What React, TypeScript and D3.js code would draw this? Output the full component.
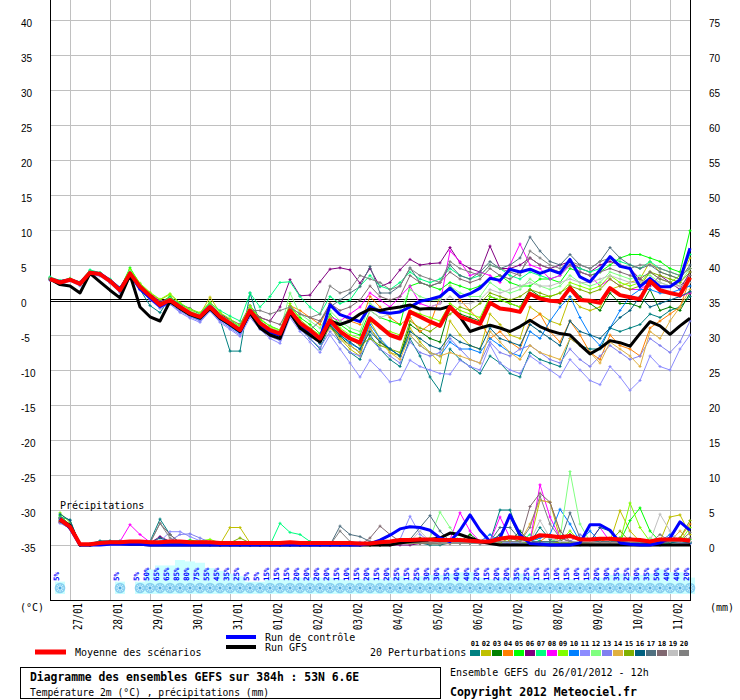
import React from 'react';
import * as d3 from 'd3';

// GEFS ensemble 26/01/2012 12h, 53N 6.6E - 65 steps of 6h (0..384h)

const dates = ['27/01', '28/01', '29/01', '30/01', '31/01', '01/02', '02/02', '03/02',
  '04/02', '05/02', '06/02', '07/02', '08/02', '09/02', '10/02', '11/02'];
const tempTicks = [40, 35, 30, 25, 20, 15, 10, 5, 0, -5, -10, -15, -20, -25, -30, -35];
const precipTicks = [75, 70, 65, 60, 55, 50, 45, 40, 35, 30, 25, 20, 15, 10, 5, 0];

const colors = ['#008080', '#c0c000', '#008000', '#ff8000', '#00ff00', '#800080', '#00ff80',
  '#ff00ff', '#80ff00', '#0080ff', '#8c8cff', '#80ff80', '#8080f0', '#e0b040', '#80b000',
  '#006080', '#507080', '#806870', '#c0c0c0', '#808080'];

// snow probability (%) per step, null = none
const snowPct = [null, 5, null, null, null, null, null, 5, null, 5, 50, 65, 65, 85, 80, 75,
  55, 45, 35, 25, 5, 5, 15, 15, 15, 20, 20, 20, 20, 15, 10, 15,
  20, 15, 20, 25, 15, 25, 30, 30, 35, 40, 40, 20, 15, 20, 20, 35,
  25, 15, 15, 10, 15, 10, 15, 20, 30, 35, 25, 30, 35, 50, 40, 40, 20];

// temperature 2m (°C), steps 0..64
const tMean = [3.0, 2.5, 2.9, 2.3, 3.9, 3.7, 2.7, 1.4, 3.8, 1.9, 0.6, -0.7, 0.0, -1.0, -1.9, -2.4,
  -1.0, -2.4, -3.3, -4.3, -1.5, -3.3, -4.3, -4.8, -1.5, -3.3, -4.3, -5.5, -2.9, -4.5, -5.5, -6.1,
  -2.6, -3.8, -5.0, -5.5, -1.7, -2.4, -3.1, -3.7, -1.0, -2.4, -2.9, -3.4, -0.4, -1.2, -1.4, -1.7,
  0.9, 0.2, -0.1, -0.2, 1.7, 0.0, -0.1, -0.4, 1.7, 0.7, 0.4, 0.1, 2.7, 1.4, 1.0, 0.7, 3.2];
const tCtrl = [3.0, 2.6, 2.9, 2.4, 3.9, 3.8, 2.8, 1.6, 3.7, 1.6, 0.3, -0.9, -0.2, -1.1, -2.0, -2.5,
  -1.2, -2.6, -3.5, -4.5, -1.8, -3.6, -4.6, -5.0, -1.8, -3.5, -4.5, -5.5, -0.7, -2.1, -2.6, -3.1,
  -0.9, -1.7, -1.9, -1.7, -1.0, -0.2, 0.1, 0.5, 1.7, 0.4, 0.9, 1.7, 3.1, 2.8, 4.4, 4.0,
  4.4, 3.8, 4.3, 3.8, 5.8, 3.3, 2.6, 4.3, 6.2, 4.8, 4.5, 1.9, 3.1, 1.9, 1.9, 2.9, 7.4];
const tGfs = [3.0, 2.2, 2.0, 1.0, 3.8, 2.6, 1.4, 0.3, 3.6, -1.0, -2.4, -3.0, -0.2, -1.2, -2.1, -2.6,
  -1.2, -2.6, -3.5, -4.5, -1.8, -4.0, -5.0, -5.5, -1.8, -4.0, -5.0, -6.0, -3.0, -3.5, -3.0, -2.0,
  -1.3, -1.5, -1.2, -1.0, -0.7, -1.3, -1.2, -1.3, -0.9, -2.4, -4.5, -4.0, -3.6, -4.0, -4.5, -3.8,
  -2.9, -3.8, -4.4, -4.8, -5.0, -6.4, -7.7, -6.9, -5.8, -6.1, -6.6, -4.8, -3.1, -3.7, -4.9, -3.7, -2.6];

const t01 = [3.1, 2.6, 3.0, 2.4, 4.2, 3.8, 2.9, 1.6, 4.0, 1.5, -0.8, -1.8, 0.3, -1.2, -2.2, -2.8,
  -0.5, -2.8, -7.3, -7.3, 1.0, -3.5, -5.0, -5.5, -2.0, -4.0, -5.5, -7.0, -3.5, -6.0, -7.5, -8.5,
  -5.0, -7.0, -8.5, -9.5, -5.5, -8.0, -11.0, -13.0, -7.0, -8.5, -9.5, -10.5, -8.0, -9.0, -10.5, -11.0,
  -7.5, -8.5, -9.0, -9.5, -5.5, -6.5, -7.0, -7.0, -4.0, -4.5, -4.0, -3.5, -2.0, -2.5, -1.5, -1.0, 0.5];
const t02 = [3.0, 2.4, 2.8, 2.2, 3.8, 3.5, 2.6, 1.3, 4.3, 2.2, 1.0, 0.0, 0.8, -0.6, -1.4, -2.0,
  0.4, -1.8, -3.0, -4.0, -1.2, -3.0, -4.5, -5.0, -0.8, -3.5, -5.0, -6.2, -3.5, -5.5, -7.0, -8.0,
  -3.0, -5.5, -7.5, -8.0, -4.0, -6.0, -7.5, -9.0, -3.0, -5.0, -6.5, -7.0, -2.0, -3.5, -5.0, -5.5,
  -1.0, -2.0, -3.0, -3.5, 0.5, -1.0, -1.5, -1.0, 1.5, 2.0, 2.5, 3.0, 5.5, 4.0, 3.5, 3.0, 6.0];
const t03 = [2.9, 2.4, 2.9, 2.2, 3.9, 3.6, 2.6, 1.2, 3.7, 1.8, 0.4, -0.8, -0.2, -1.2, -2.0, -2.6,
  -1.2, -2.8, -3.6, -4.6, -1.8, -3.6, -4.8, -5.5, -2.0, -4.0, -5.0, -6.2, -3.8, -5.2, -6.5, -7.5,
  -4.0, -6.0, -7.0, -8.0, -3.5, -4.5, -5.5, -6.0, -1.0, -2.0, -2.5, -3.0, 0.5, 0.0, -0.5, -1.0,
  1.5, 0.5, 0.0, -0.5, 2.0, 0.5, -0.5, -1.5, 1.0, -0.5, -0.5, -1.0, 1.5, -1.5, -1.0, -1.5, 1.0];
const t04 = [3.1, 2.5, 2.9, 2.3, 3.8, 3.6, 2.7, 1.5, 3.9, 2.0, 0.8, -0.4, 0.4, -0.8, -1.6, -2.2,
  -0.8, -2.2, -3.0, -4.0, -1.2, -3.0, -4.0, -4.5, -0.8, -1.5, -2.5, -3.5, -0.5, -2.0, -3.0, -3.5,
  0.5, -1.0, -2.5, -3.5, -2.5, -4.5, -3.5, 0.5, 2.0, 0.0, -1.5, -3.0, -5.5, -4.5, -6.0, -7.0,
  -3.0, -2.0, -4.5, -6.0, -3.0, -5.0, -7.5, -8.5, -5.0, -6.5, -7.0, -8.0, -4.0, -3.0, -2.0, -1.0, 3.0];
const t05 = [3.2, 2.7, 3.1, 2.5, 4.1, 3.9, 2.9, 1.6, 4.6, 2.3, 0.9, -0.4, 0.5, -0.8, -1.7, -2.2,
  -0.7, -2.0, -2.9, -3.8, -1.0, -2.8, -3.7, -4.3, -1.0, -2.5, -3.5, -4.8, -2.0, -3.5, -4.5, -5.0,
  -1.5, -2.5, -3.0, -3.5, 2.0, 2.5, 2.0, 1.5, 2.5, 2.0, 1.5, 2.0, 3.0, 3.5, 2.5, 2.0,
  2.0, 3.0, 3.0, 2.5, 4.5, 4.0, 3.5, 4.0, 5.0, 6.0, 6.5, 6.5, 6.0, 5.5, 4.5, 4.0, 9.9];
const t06 = [3.0, 2.5, 2.8, 2.3, 3.9, 3.7, 2.8, 1.5, 3.8, 2.0, 0.9, -0.2, 0.2, -0.6, -1.2, -2.0,
  -0.5, -2.0, -2.8, -3.5, -0.8, -2.5, -3.0, -1.0, 2.9, 0.6, 0.7, 2.6, 4.4, 4.6, 4.3, 2.4,
  4.5, 1.9, 2.5, 4.3, 5.8, 5.0, 5.2, 5.3, 7.5, 5.3, 4.5, 4.0, 7.7, 4.5, 4.5, 5.0,
  6.0, 5.0, 4.5, 5.0, 5.5, 4.5, 4.0, 5.0, 5.5, 5.0, 4.5, 3.0, 2.0, 3.5, 2.5, 1.5, 4.0];
const t07 = [3.3, 2.8, 3.0, 2.6, 4.3, 3.9, 3.0, 1.8, 4.2, 2.1, 0.8, -0.5, 0.3, -0.5, -1.3, -1.9,
  -0.4, -1.5, -2.3, -3.0, 1.0, -1.0, 0.5, 2.5, 2.6, 0.5, -1.0, -2.0, 0.5, -0.5, 0.0, 2.0,
  3.5, 2.0, 1.5, 2.5, 4.0, 3.0, 2.5, 3.0, 4.5, 3.5, 3.0, 3.5, 5.0, 4.5, 3.5, 3.0,
  4.0, 3.5, 3.0, 3.5, 5.0, 4.5, 4.0, 4.5, 6.0, 5.5, 5.0, 4.5, 5.5, 4.5, 4.0, 3.5, 6.5];
const t08 = [3.0, 2.4, 2.8, 2.2, 3.7, 3.5, 2.5, 1.2, 3.6, 1.7, 0.4, -0.9, -0.2, -1.4, -2.2, -2.6,
  -1.2, -2.6, -3.5, -4.5, -1.6, -3.4, -4.5, -5.0, -1.4, -3.0, -4.2, -5.6, -2.4, -3.0, -2.0, -1.0,
  1.0, 0.0, -1.0, 0.5, 2.0, -0.5, -1.0, -0.5, 7.0, 5.5, 3.5, 4.0, 3.5, 2.5, 5.0, 8.0,
  5.0, 4.5, 3.0, 3.5, 5.0, 4.0, 3.5, 2.0, 3.0, 2.0, 1.5, 1.5, 2.5, 1.5, 1.0, 0.5, 1.0];
const t09 = [3.0, 2.6, 3.0, 2.4, 4.0, 3.8, 2.8, 1.5, 4.4, 2.4, 1.1, 0.1, 0.9, -0.4, -1.3, -1.8,
  -0.3, -1.8, -2.7, -3.6, -0.8, -2.6, -3.8, -4.3, -0.5, -2.8, -4.0, -5.0, -2.4, -4.0, -5.0, -5.5,
  -3.0, -4.0, -4.5, -5.0, -1.5, -2.0, -2.5, -3.0, -0.5, -1.5, -2.0, -2.5, 0.5, 0.0, -0.5, -1.0,
  1.0, 0.5, 0.5, 1.0, 2.5, 2.0, 1.5, 2.0, 3.5, 2.5, 2.0, 2.5, 4.0, 3.0, 2.5, 3.5, 4.5];
const t10 = [2.9, 2.3, 2.8, 2.2, 3.8, 3.6, 2.6, 1.3, 3.9, 1.6, 0.2, -1.0, -0.3, -1.4, -2.3, -2.9,
  -1.4, -2.8, -3.8, -4.8, -2.0, -3.8, -4.8, -5.4, -2.0, -3.8, -5.0, -6.2, -3.5, -5.0, -6.2, -7.0,
  -3.5, -5.5, -7.0, -8.0, -5.0, -6.5, -7.5, -8.0, -6.0, -7.0, -7.0, -7.5, -5.5, -6.5, -7.5, -8.0,
  -4.5, -5.5, -3.0, -1.0, 0.5, -2.5, -5.0, -6.5, -4.0, -1.5, 0.5, 1.5, 1.5, 1.0, 1.0, 1.5, 2.0];
const t11 = [2.8, 2.2, 2.7, 2.0, 3.6, 3.4, 2.4, 1.0, 3.4, 1.4, 0.0, -1.2, -0.6, -1.8, -2.6, -3.2,
  -1.6, -3.2, -4.2, -5.2, -2.5, -4.2, -5.5, -6.2, -2.5, -4.5, -6.0, -7.5, -5.0, -7.0, -9.0, -11.0,
  -8.6, -10.0, -11.7, -11.4, -8.6, -9.5, -10.0, -10.5, -10.6, -8.6, -9.5, -10.0, -6.4, -9.0, -10.0, -10.5,
  -8.0, -9.0, -10.0, -11.0, -8.5, -10.0, -11.5, -12.1, -9.5, -11.0, -12.9, -11.5, -8.0, -9.5, -10.0, -7.0, -5.0];
const t12 = [3.1, 2.6, 3.0, 2.4, 4.0, 3.8, 2.8, 1.5, 4.1, 2.1, 0.8, -0.5, 0.2, -0.8, -1.6, -2.1,
  -0.8, -2.1, -3.0, -3.9, -1.2, -3.0, -4.0, -4.5, 1.0, -2.0, -3.0, -4.0, -1.5, -3.0, -4.0, -4.5,
  -0.5, -1.5, -2.0, -1.5, 1.5, 0.5, 0.0, 0.0, 2.0, 1.0, 0.5, 0.5, 2.5, 1.5, 1.0, 1.5,
  3.0, 2.0, 1.5, 2.0, 3.5, 2.5, 2.0, 2.5, 4.0, 3.5, 3.0, 3.5, 3.5, 2.5, 2.0, 2.5, 4.5];
const t13 = [2.9, 2.3, 2.8, 2.1, 3.7, 3.5, 2.5, 1.1, 3.5, 1.5, 0.1, -1.1, -0.5, -1.6, -2.4, -3.0,
  -1.5, -3.0, -4.0, -5.0, -2.2, -4.0, -5.2, -5.8, -2.2, -4.2, -5.5, -6.8, -4.5, -6.0, -7.5, -8.0,
  -5.5, -7.0, -8.0, -9.0, -6.0, -7.5, -8.0, -7.5, -5.5, -7.0, -8.5, -9.0, -6.0, -7.5, -8.0, -7.0,
  -6.5, -7.5, -8.5, -9.0, -7.0, -8.5, -9.5, -8.0, -6.5, -7.5, -8.5, -8.0, -5.5, -6.5, -7.5, -6.0, -3.0];
const t14 = [3.0, 2.5, 2.9, 2.3, 3.9, 3.6, 2.6, 1.4, 3.8, 1.8, 0.5, -0.8, 0.0, -1.1, -2.0, -2.5,
  -1.0, -2.5, -3.4, -4.4, -1.6, -3.4, -4.4, -5.0, -1.6, -3.4, -4.6, -6.0, -4.0, -5.5, -6.5, -7.5,
  -4.0, -6.0, -7.5, -8.5, -5.0, -6.5, -7.5, -8.0, -7.5, -8.0, -8.5, -9.0, -4.5, -6.0, -7.5, -8.5,
  -6.5, -7.5, -8.0, -8.5, -5.5, -6.5, -7.5, -9.0, -6.0, -7.0, -8.0, -9.5, -4.5, -5.5, -3.0, -1.0, 1.5];
const t15 = [3.0, 2.5, 2.9, 2.3, 3.9, 3.7, 2.7, 1.4, 3.9, 1.9, 0.6, -0.7, 0.1, -1.0, -1.9, -2.4,
  -0.9, -2.4, -3.3, -4.3, -1.4, -3.3, -4.3, -4.9, -1.4, -3.3, -4.4, -5.6, -3.0, -4.5, -5.5, -6.5,
  -5.5, -6.5, -7.0, -7.5, -3.0, -4.0, -4.5, -3.5, -2.0, -1.0, -1.5, -0.5, 1.0, 0.5, 0.0, 0.5,
  1.5, 1.0, 0.5, 1.0, 2.0, 1.5, 1.0, 1.5, 3.0, 2.0, 1.5, 2.0, 4.0, 3.5, 3.0, 2.5, 4.0];
const t16 = [3.0, 2.4, 2.8, 2.2, 3.8, 3.6, 2.6, 1.3, 3.7, 1.7, 0.3, -0.9, -0.1, -1.2, -2.1, -2.6,
  -1.2, -2.6, -3.5, -4.5, -1.8, -3.6, -4.6, -5.2, -1.8, -3.6, -4.8, -6.0, -3.5, -5.0, -6.0, -7.0,
  -4.5, -6.0, -7.0, -8.0, -4.5, -5.5, -6.5, -7.0, -5.0, -6.0, -6.5, -7.0, -4.0, -5.5, -6.0, -6.5,
  -3.5, -4.5, -5.5, -6.5, -3.0, -4.5, -5.0, -5.5, -4.0, -2.5, -1.5, 0.5, -1.0, -0.5, 0.0, 0.5, 1.2];
const t17 = [3.0, 2.5, 2.9, 2.3, 4.0, 3.7, 2.7, 1.4, 3.9, 1.9, 0.6, -0.7, 0.0, -1.0, -1.9, -2.4,
  -1.0, -2.4, -3.3, -4.3, -1.5, -3.3, -4.3, -4.8, -1.5, -3.3, -4.3, -3.0, -1.0, 0.0, 1.0, 1.9,
  4.8, 1.0, 1.0, 2.0, 4.6, 2.5, 2.0, 2.5, 5.0, 3.5, 3.0, 4.0, 5.5, 4.5, 5.0, 6.0,
  9.0, 7.0, 5.5, 5.0, 6.5, 5.0, 4.5, 5.5, 7.5, 6.0, 5.0, 4.5, 5.0, 4.0, 3.5, 3.0, 5.0];
const t18 = [3.0, 2.5, 2.9, 2.3, 3.9, 3.7, 2.7, 1.4, 3.9, 1.9, 0.6, -0.7, 0.0, -1.0, -1.9, -2.4,
  -1.0, -2.4, -3.3, -4.3, -1.5, -2.5, -3.0, -3.5, -1.0, -2.0, -2.5, -3.0, -0.5, -1.5, -1.0, 0.0,
  2.0, 0.5, 0.0, 0.5, 3.5, 2.5, 2.0, 2.5, 4.0, 3.0, 2.5, 3.0, 4.5, 3.5, 3.0, 4.0,
  6.0, 5.0, 4.5, 4.0, 5.0, 4.0, 3.5, 4.0, 4.5, 4.0, 3.5, 3.0, 4.0, 3.0, 2.5, 2.0, 3.5];
const t19 = [3.0, 2.5, 2.9, 2.3, 3.9, 3.7, 2.7, 1.4, 3.8, 1.9, 0.6, -0.7, 0.0, -1.0, -1.9, -2.4,
  -1.0, -2.4, -3.3, -4.3, -1.5, -3.3, -4.3, -4.8, -1.5, -3.3, -4.3, -5.5, -2.9, -4.5, -5.5, -6.1,
  -1.5, -2.5, -2.0, -1.5, -1.0, -1.5, -1.0, -0.5, 0.5, -0.5, -0.5, 0.0, 1.5, 1.0, 1.5, 2.0,
  2.5, 2.0, 2.0, 2.5, 3.0, 2.5, 2.5, 3.0, 3.5, 3.0, 2.5, 2.5, 3.0, 2.5, 2.0, 2.0, 2.5];
const t20 = [3.0, 2.5, 2.9, 2.3, 3.9, 3.7, 2.7, 1.4, 3.8, 1.9, 0.6, -0.7, 0.0, -1.0, -1.9, -2.4,
  -1.0, -2.4, -3.3, -4.3, -1.5, -1.5, -2.0, -1.5, -1.0, -2.0, -2.5, -2.0, 2.0, 1.0, 1.5, 3.5,
  3.0, 2.5, 1.5, 2.0, 4.5, 3.5, 3.0, 2.5, 5.5, 4.5, 4.0, 3.5, 5.0, 4.5, 4.0, 3.5,
  7.0, 6.0, 5.0, 4.5, 5.5, 5.0, 4.5, 5.5, 6.0, 5.0, 4.5, 5.0, 5.0, 4.5, 4.0, 3.5, 4.5];

// precipitation (mm), steps 1..64
const pMean = [3.7, 2.6, 0.1, 0.1, 0.3, 0.4, 0.4, 0.5, 0.5, 0.4, 0.4, 0.5, 0.5, 0.4, 0.4, 0.4,
  0.3, 0.3, 0.3, 0.3, 0.3, 0.3, 0.3, 0.4, 0.3, 0.3, 0.3, 0.3, 0.3, 0.3, 0.2, 0.2,
  0.4, 0.5, 0.7, 0.7, 0.8, 0.8, 0.7, 0.7, 0.7, 0.6, 0.5, 0.5, 0.9, 1.1, 1.0, 0.8,
  1.4, 1.3, 1.1, 1.3, 0.8, 0.8, 0.9, 0.9, 0.8, 0.8, 0.7, 0.5, 0.8, 0.8, 0.8, 0.6];
const pCtrl = [3.8, 2.4, 0, 0, 0, 0.1, 0.1, 0.1, 0.1, 0, 0, 0, 0, 0, 0, 0,
  0, 0, 0, 0, 0, 0, 0, 0, 0, 0, 0, 0, 0, 0, 0, 0.2,
  0.7, 1.4, 2.3, 2.6, 2.5, 2.1, 1.0, 0.5, 2.1, 4.3, 2.1, 0.5, 1.0, 4.3, 1.5, 0.2,
  0.1, 0, 0, 0, 0.3, 2.9, 2.9, 2.1, 0.3, 0.1, 0, 0, 0.3, 1.0, 3.3, 2.1];
const pGfs = [3.5, 2.8, 0, 0, 0.2, 0.2, 0.2, 0.1, 0.1, 0, 0, 0, 0, 0, 0, 0,
  0, 0, 0, 0, 0, 0, 0, 0, 0, 0, 0, 0, 0, 0, 0, 0,
  0, 0, 0.3, 0.5, 0.6, 0.8, 1.0, 1.7, 1.5, 1.0, 0.5, 0.2, 0, 0, 0, 0,
  0, 0, 0, 0, 0, 0, 0, 0, 0, 0, 0, 0, 0, 0, 0, 0];

const p01 = [4.0, 3.6, 0, 0.2, 0.6, 0.6, 0.6, 0.4, 0.3, 0.5, 3.7, 1.5, 0.3, 0.2, 0.1, 0,
  0, 0, 0, 0, 0, 0, 0, 0, 0, 0.5, 0.2, 0, 0, 0, 0, 0,
  0, 0.3, 0.5, 0.5, 0.3, 0, 0, 0.3, 0.8, 0.5, 0.2, 0.5, 5.0, 5.0, 1.0, 0.3,
  2.5, 0.8, 0.3, 0.2, 0, 0, 0.3, 0.5, 0.2, 1.0, 0.5, 0.2, 0, 0.3, 0.5, 0.3];
const p02 = [3.6, 2.8, 0, 0, 0.2, 0.2, 0.3, 0.3, 0.3, 0.2, 0.2, 0.3, 0.2, 0.2, 0.1, 0.1,
  0.1, 2.5, 2.5, 0.3, 0, 0, 0, 0, 0, 0, 0, 0, 0, 0, 0, 0,
  0, 0, 0.2, 0.3, 0.3, 0.2, 0.2, 0.3, 0.5, 0.5, 0.2, 0.3, 1.5, 0.5, 0.2, 0.5,
  6.4, 6.1, 1.0, 0.5, 0.2, 0.3, 0.2, 0.5, 4.9, 2.0, 0.5, 0.3, 0.5, 4.0, 4.3, 1.5];
const p03 = [3.4, 2.5, 0, 0, 0.3, 0.3, 0.3, 0.4, 0.4, 0.3, 0.3, 0.3, 0.2, 0.2, 0.2, 0.1,
  0.1, 0, 0, 0, 0, 0, 0, 0, 0, 0, 0, 0, 0, 0, 0, 0,
  0.2, 0.3, 0.5, 0.5, 1.0, 0.5, 0.3, 0.3, 0.5, 1.5, 0.5, 0.3, 0.2, 0.5, 2.0, 0.5,
  0.3, 0.5, 0.5, 0.3, 0.2, 0.3, 0.5, 0.5, 1.0, 0.5, 0.5, 0.3, 0.3, 0.5, 0.5, 0.3];
const p04 = [3.5, 2.6, 0, 0, 0.2, 0.3, 0.3, 0.3, 0.3, 0.2, 0.2, 0.3, 0.3, 0.2, 0.2, 0.1,
  0, 0, 0, 0, 0, 0, 0, 0, 0, 0, 0, 0, 0, 0, 0, 0,
  0, 0.2, 0.5, 0.8, 0.3, 0.2, 0.2, 0.2, 0.3, 0.3, 0.2, 0.2, 0.2, 0.5, 0.3, 0.3,
  0.5, 1.5, 0.5, 0.3, 0.2, 0.3, 0.5, 1.0, 0.3, 0.2, 0.2, 0.2, 0.5, 0.5, 1.0, 3.0];
const p05 = [4.2, 2.9, 0, 0, 0.3, 0.3, 0.4, 0.4, 0.5, 0.4, 0.4, 0.5, 0.5, 0.7, 0.5, 0.3,
  0.2, 0.1, 0, 0, 0, 0, 0, 0, 0, 0, 0, 0, 0.2, 0, 0, 0,
  0, 0.2, 0.3, 0.3, 0.5, 0.5, 0.3, 0.3, 0.5, 0.5, 0.3, 0.3, 0.5, 0.3, 0.3, 0.5,
  0.5, 0.3, 0.5, 1.5, 0.5, 0.3, 0.3, 0.5, 0.5, 3.5, 5.3, 2.0, 0.5, 0.5, 1.0, 0.8];
const p06 = [3.2, 2.4, 0, 0, 0.2, 0.3, 0.3, 0.3, 0.3, 0.3, 1.2, 0.5, 0.3, 0.2, 0.1, 0,
  0, 0, 0, 0, 0, 0, 0, 0, 0, 0, 0, 0, 0, 0, 0, 0,
  0, 0, 0, 0, 0.2, 0.2, 0.2, 0.2, 0.3, 0.3, 0.2, 0.5, 0.3, 0.2, 0.2, 0.2,
  0.3, 0.5, 0.5, 1.5, 0.5, 0.2, 0.2, 0.2, 0.3, 0.2, 0.2, 0.2, 0.3, 0.8, 0.3, 0.2];
const p07 = [3.9, 2.7, 0, 0, 0.3, 0.3, 0.3, 0.4, 0.4, 0.3, 0.3, 0.3, 0.3, 0.2, 0.2, 0.2,
  0.1, 0, 0, 0, 0, 0, 3.1, 1.8, 1.5, 0.5, 0.2, 0, 0, 0, 0, 0,
  0, 0.2, 0.3, 0.3, 0.5, 0.5, 0.3, 0.3, 0.3, 0.3, 0.2, 0.3, 0.3, 0.5, 0.5, 1.5,
  0.5, 0.3, 0.3, 0.5, 0.5, 0.3, 0.3, 0.5, 1.0, 0.5, 0.3, 0.3, 0.3, 0.3, 0.5, 0.3];
const p08 = [3.3, 2.5, 0, 0, 0.3, 0.4, 0.5, 2.9, 1.5, 0.4, 0.3, 0.3, 0.3, 0.2, 0.2, 0.1,
  0, 0, 0, 0, 0, 0, 0, 0, 0, 0, 0, 0, 0, 0, 0, 0,
  0, 0, 0.3, 0.5, 0.5, 0.5, 0.5, 0.8, 4.6, 2.0, 0.5, 0.5, 4.0, 1.0, 0.5, 0.5,
  8.6, 4.0, 1.0, 0.5, 0.3, 0.5, 2.5, 0.5, 0.3, 0.3, 0.3, 0.3, 0.2, 0.5, 0.3, 0.3];
const p09 = [4.6, 3.2, 0, 0, 0.3, 0.3, 0.3, 0.4, 0.4, 0.4, 0.4, 0.4, 0.4, 0.5, 0.6, 0.8,
  0.3, 0.1, 0, 0, 0, 0, 0, 0, 0, 0, 0, 0, 0, 0, 0, 0,
  0.2, 0.2, 0.3, 0.3, 0.3, 0.5, 0.5, 0.3, 0.3, 0.5, 0.5, 0.3, 0.5, 0.3, 0.5, 0.5,
  0.5, 0.5, 0.5, 2.0, 0.5, 0.3, 0.3, 0.5, 0.5, 6.0, 2.5, 0.5, 0.5, 0.5, 0.5, 2.5];
const p10 = [3.7, 2.7, 0, 0, 0.2, 0.2, 0.3, 0.3, 0.3, 0.3, 0.3, 0.3, 0.3, 0.2, 0.2, 0.2,
  0, 0, 0, 0, 0, 0, 0, 0, 0, 0, 0, 0, 0, 0, 0, 0,
  0, 0.2, 0.3, 0.5, 0.3, 0.3, 0.3, 0.3, 0.3, 0.3, 0.5, 1.5, 0.5, 0.3, 0.3, 0.5,
  1.0, 1.5, 5.1, 3.0, 0.5, 2.0, 0.5, 0.5, 0.3, 0.3, 0.5, 0.5, 0.5, 1.5, 0.5, 0.3];
const p11 = [3.1, 2.4, 0, 0, 0.2, 0.2, 0.3, 0.3, 0.3, 0.3, 0.5, 1.9, 1.9, 1.2, 0.6, 0.3,
  0.2, 0.1, 0.2, 0.3, 0.2, 0.2, 0.2, 0.3, 0.3, 0.3, 0.3, 0.2, 0.2, 0.2, 0.1, 0.1,
  0.3, 0.5, 0.8, 4.1, 1.5, 0.5, 0.3, 0.3, 0.3, 0.3, 0.2, 0.2, 0.3, 0.3, 0.3, 0.2,
  0.2, 0.2, 0.3, 0.3, 0.3, 0.3, 0.2, 0.2, 0.2, 0.3, 0.3, 0.3, 0.8, 0.3, 0.2, 0.2];
const p12 = [3.6, 2.6, 0, 0, 0.3, 0.3, 0.3, 0.3, 0.3, 0.3, 0.3, 0.3, 0.3, 0.3, 0.3, 0.2,
  0.1, 0, 0, 0, 0, 0, 0, 0, 0, 0, 0, 0, 0, 0, 0, 0,
  0, 0.2, 0.3, 0.5, 0.5, 1.0, 4.7, 2.5, 0.5, 0.3, 0.3, 0.3, 0.3, 0.5, 0.3, 0.3,
  0.5, 0.5, 1.0, 10.5, 3.0, 0.5, 0.3, 0.3, 0.3, 0.3, 0.3, 1.0, 0.3, 0.3, 0.3, 0.3];
const p13 = [3.5, 2.6, 0, 0, 0.2, 0.3, 0.3, 0.3, 0.3, 0.3, 0.4, 0.6, 1.5, 1.6, 1.0, 0.4,
  0.3, 0.2, 0.1, 0.1, 0.2, 0.2, 0.2, 0.2, 0.3, 0.2, 0.2, 0.2, 0.2, 0.3, 0.4, 0.2,
  0.2, 0.3, 0.5, 0.5, 0.5, 0.3, 0.3, 0.3, 0.3, 0.3, 0.2, 0.2, 0.3, 0.3, 0.3, 0.3,
  0.3, 0.3, 0.3, 0.5, 1.5, 0.5, 0.3, 0.3, 0.3, 0.3, 0.3, 0.3, 0.5, 1.0, 0.3, 0.2];
const p14 = [3.4, 2.5, 0, 0, 0.2, 0.3, 0.3, 0.3, 0.3, 0.3, 0.3, 0.3, 0.3, 0.2, 0.2, 0.2,
  0, 0, 0, 0, 0, 0, 0, 0, 0, 0, 0, 0, 0, 0, 0, 0,
  0, 0.2, 0.3, 0.3, 0.3, 0.3, 0.3, 0.3, 0.3, 0.3, 0.5, 0.5, 0.5, 0.5, 0.5, 3.0,
  6.4, 6.1, 2.0, 0.5, 0.3, 0.3, 0.3, 0.3, 0.3, 0.3, 0.5, 0.5, 0.5, 0.5, 2.0, 0.5];
const p15 = [3.8, 2.6, 0, 0, 0.3, 0.3, 0.3, 0.3, 0.3, 0.3, 0.3, 0.3, 0.3, 0.3, 0.3, 0.2,
  0.2, 0.3, 1.0, 0.3, 0.1, 0, 0, 0, 0, 0, 0, 0, 0, 0, 0, 0,
  0, 0.2, 0.3, 0.3, 0.3, 0.3, 0.3, 0.3, 0.3, 0.3, 0.3, 0.3, 0.3, 1.0, 0.5, 0.3,
  0.5, 0.5, 0.3, 0.3, 0.3, 0.3, 0.5, 0.5, 2.0, 0.5, 0.5, 0.5, 0.5, 0.5, 1.0, 3.5];
const p16 = [4.4, 3.5, 0, 0, 0.3, 0.5, 0.5, 0.4, 0.4, 0.3, 1.0, 0.5, 0.3, 0.3, 0.2, 0.2,
  0.1, 0, 0, 0, 0, 0, 0, 0, 0, 0, 0, 0, 0, 0, 0, 0,
  0, 0.2, 0.3, 0.5, 0.5, 0.5, 0.5, 0.5, 0.5, 0.3, 0.3, 0.5, 1.5, 4.0, 1.0, 0.5,
  0.5, 0.5, 0.5, 0.5, 0.3, 0.5, 2.5, 2.0, 0.5, 0.3, 0.3, 0.3, 0.3, 0.3, 0.5, 0.3];
const p17 = [3.9, 3.0, 0, 0, 0.3, 0.3, 0.3, 0.4, 0.4, 0.3, 0.3, 0.3, 0.3, 0.2, 0.2, 0.2,
  0, 0, 0, 0, 0, 0, 0, 0, 0, 0, 0, 0, 2.7, 1.5, 1.2, 0.5,
  0.3, 0.3, 0.5, 0.8, 2.5, 4.2, 2.0, 0.5, 0.3, 0.5, 0.5, 0.5, 2.5, 2.5, 0.8, 0.5,
  0.5, 0.5, 0.5, 4.6, 1.0, 0.5, 0.5, 0.5, 0.5, 0.5, 0.5, 0.5, 0.5, 0.5, 0.5, 0.5];
const p18 = [3.3, 2.3, 0, 0, 0.2, 0.3, 0.3, 0.3, 0.3, 0.3, 3.1, 1.5, 0.3, 0.2, 0.2, 0.1,
  0, 0, 0, 0, 0, 0, 0, 0, 0, 0, 0, 0, 0, 0, 0, 1.0,
  2.7, 1.5, 0.5, 0.3, 0.3, 0.3, 0.3, 0.3, 0.3, 0.3, 0.3, 0.3, 0.5, 0.5, 0.5, 5.5,
  7.4, 6.1, 2.0, 0.5, 0.3, 0.3, 0.3, 0.3, 0.3, 0.3, 0.3, 0.3, 0.3, 0.5, 0.5, 1.0];
const p19 = [3.6, 2.7, 0, 0, 0.2, 0.2, 0.2, 0.3, 0.3, 0.3, 0.3, 0.3, 0.3, 0.3, 0.2, 0.2,
  0, 0, 0, 0, 0, 0, 0, 0, 0, 0, 0, 0, 0, 0, 0, 0,
  0, 0.2, 0.3, 0.5, 2.0, 0.5, 0.3, 0.3, 0.3, 0.3, 0.3, 0.3, 0.5, 0.5, 0.5, 0.5,
  3.5, 1.0, 0.5, 0.5, 0.5, 0.5, 0.3, 0.3, 0.3, 0.5, 0.5, 0.5, 4.4, 2.0, 0.5, 0.5];
const p20 = [3.8, 2.8, 0, 0, 0.2, 0.3, 0.3, 0.4, 0.4, 0.3, 3.1, 1.0, 0.3, 0.2, 0.2, 0.2,
  0, 0, 0, 0, 0, 0, 0, 0, 0, 0, 0, 0, 2.0, 0.5, 0.2, 0,
  0, 0.2, 0.3, 0.3, 0.3, 0.3, 0.3, 0.3, 0.3, 0.3, 0.3, 0.3, 0.5, 0.5, 0.5, 2.5,
  7.0, 3.0, 1.0, 0.5, 0.3, 0.3, 0.3, 0.3, 0.3, 0.3, 0.3, 0.3, 1.5, 0.5, 0.5, 1.8];

const pertTemp = [t01, t02, t03, t04, t05, t06, t07, t08, t09, t10, t11, t12, t13, t14, t15, t16, t17, t18, t19, t20];
const pertPrecip = [p01, p02, p03, p04, p05, p06, p07, p08, p09, p10, p11, p12, p13, p14, p15, p16, p17, p18, p19, p20];

const MONO = "'DejaVu Sans Mono', monospace";
const SANS = "'Liberation Sans', Arial, sans-serif";

export default function App() {
  const x = d3.scaleLinear().domain([0, 64]).range([50, 690]);
  const yT = d3.scaleLinear().domain([-35, 40]).range([545, 20]);
  const yP = d3.scaleLinear().domain([0, 75]).range([545, 20]);

  const lineT = d3.line<number>().x((d, i) => x(i)).y(d => yT(d));
  const lineP = d3.line<number>().x((d, i) => x(i + 1)).y(d => yP(d));

  const cross = (cx: number, cy: number) => `M${cx - 1.5},${cy}h3M${cx},${cy - 1.5}v3`;

  const pertMarks = (vals: number[], c: string, key: string, off: number, y: (v: number) => number) => (
    <g key={key}>
      <path d={(off ? lineP : lineT)(vals) || ''} fill="none" stroke={c} strokeWidth={1} />
      <path d={vals.map((v, i) => cross(x(i + off), y(v))).join('')} fill="none" stroke={c} strokeWidth={1} />
    </g>
  );

  return (
    <div style={{ position: 'absolute', left: 0, top: 0 }}>
      <svg width={740} height={700} style={{ display: 'block', background: '#fff' }}>
        <rect x={0} y={0} width={740} height={700} fill="#fff" />

        {/* grid */}
        <g stroke="#c0c0c0" strokeWidth={1} shapeRendering="crispEdges">
          {tempTicks.filter(v => v !== 0).map(v => (
            <line key={'h' + v} x1={50} x2={690} y1={Math.round(yT(v)) + 0.5} y2={Math.round(yT(v)) + 0.5} />
          ))}
          {dates.map((d, k) => (
            <line key={'v' + d} x1={x(2 + 4 * k) + 0.5} x2={x(2 + 4 * k) + 0.5} y1={0} y2={600} />
          ))}
        </g>

        {/* snow probability */}
        {snowPct.map((p, i) => p == null ? null : (
          <rect key={'sb' + i} x={x(i) - 5} y={583 - p * 0.27} width={10} height={594 - (583 - p * 0.27)} fill="#ccffff" />
        ))}
        {snowPct.map((p, i) => p == null ? null : (
          <g key={'si' + i}>
            <circle cx={x(i)} cy={588} r={5.3} fill="#88d0f0" />
            <path d={`M${x(i) - 4},588h8M${x(i)},584v8M${x(i) - 3},585l6,6M${x(i) + 3},585l-6,6`} stroke="#c8ecfc" strokeWidth={1} />
            <circle cx={x(i)} cy={588} r={1.2} fill="#4aa8e0" />
          </g>
        ))}
        {snowPct.map((p, i) => p == null ? null : (
          <text key={'st' + i} transform={`translate(${x(i) - 1},581) rotate(-90)`} fontFamily={MONO} fontWeight="bold"
            fontSize={7.5} fill="#0000ff">{p + '%'}</text>
        ))}

        {/* frame */}
        <g stroke="#000" strokeWidth={1} shapeRendering="crispEdges">
          <line x1={50.5} x2={50.5} y1={0} y2={601} />
          <line x1={690.5} x2={690.5} y1={0} y2={601} />
          <line x1={50} x2={691} y1={600.5} y2={600.5} />
          <line x1={50} x2={690} y1={299.5} y2={299.5} />
          <line x1={50} x2={690} y1={301.5} y2={301.5} />
        </g>

        {/* axis labels */}
        {tempTicks.map(v => (
          <text key={'lt' + v} x={21} y={yT(v) + 7} fontFamily={SANS} fontSize={10} fill="#000">{v}</text>
        ))}
        {precipTicks.map(v => (
          <text key={'rt' + v} x={709} y={yP(v) + 7} fontFamily={SANS} fontSize={10} fill="#000">{v}</text>
        ))}
        {dates.map((d, k) => (
          <text key={'dt' + d} transform={`translate(${x(2 + 4 * k) + 11.7},603) rotate(-90)`} textAnchor="end"
            fontFamily={MONO} fontSize={12} textLength={27} lengthAdjust="spacingAndGlyphs" fill="#000">{d}</text>
        ))}
        <text x={20} y={610.5} fontFamily={MONO} fontSize={10}>(°C)</text>
        <text x={710} y={611} fontFamily={MONO} fontSize={10}>(mm)</text>
        <text x={60} y={508.5} fontFamily={MONO} fontSize={10}>Précipitations</text>

        {/* perturbations */}
        {pertTemp.map((s, k) => pertMarks(s, colors[k], 'pt' + k, 0, yT))}
        {pertPrecip.map((s, k) => pertMarks(s, colors[k], 'pp' + k, 1, yP))}

        {/* GFS, control, mean */}
        <path d={lineP(pGfs) || ''} fill="none" stroke="#000" strokeWidth={3} strokeLinejoin="round" />
        <path d={lineP(pCtrl) || ''} fill="none" stroke="#0000ff" strokeWidth={3} strokeLinejoin="round" />
        <path d={lineT(tCtrl) || ''} fill="none" stroke="#0000ff" strokeWidth={3} strokeLinejoin="round" />
        <path d={lineT(tGfs) || ''} fill="none" stroke="#000" strokeWidth={3} strokeLinejoin="round" />
        <path d={lineT(tMean) || ''} fill="none" stroke="#ff0000" strokeWidth={4} strokeLinejoin="round" />
        <path d={lineP(pMean) || ''} fill="none" stroke="#ff0000" strokeWidth={4} strokeLinejoin="round" />

        {/* legend */}
        <rect x={35} y={649.5} width={31} height={5} fill="#ff0000" />
        <text x={75} y={655.5} fontFamily={MONO} fontSize={10}>Moyenne des scénarios</text>
        <rect x={226} y={635} width={30} height={4} fill="#0000ff" />
        <text x={265} y={641} fontFamily={MONO} fontSize={10}>Run de contrôle</text>
        <rect x={226} y={645} width={30} height={4} fill="#000" />
        <text x={265} y={651} fontFamily={MONO} fontSize={10}>Run GFS</text>
        <text x={370} y={656} fontFamily={MONO} fontSize={10}>20 Perturbations</text>
        {colors.map((c, k) => (
          <g key={'lg' + k}>
            <rect x={470 + 11 * k} y={650} width={10} height={6} fill={c} />
            <text x={475 + 11 * k} y={645.5} textAnchor="middle" fontFamily={MONO} fontWeight="bold" fontSize={7}>
              {String(k + 1).padStart(2, '0')}
            </text>
          </g>
        ))}

        {/* info boxes */}
        <rect x={20.5} y={667.5} width={420} height={31} fill="none" stroke="#000" strokeWidth={1} shapeRendering="crispEdges" />
        <text x={30} y={681} fontFamily={MONO} fontWeight="bold" fontSize={11.4}>Diagramme des ensembles GEFS sur 384h : 53N 6.6E</text>
        <text x={30} y={695.5} fontFamily={MONO} fontSize={9.7}>Température 2m (°C) , précipitations (mm)</text>
        <text x={450} y={676} fontFamily={MONO} fontSize={10}>Ensemble GEFS du 26/01/2012 - 12h</text>
        <text x={450} y={696} fontFamily={MONO} fontWeight="bold" fontSize={11.5}>Copyright 2012 Meteociel.fr</text>
      </svg>
    </div>
  );
}
